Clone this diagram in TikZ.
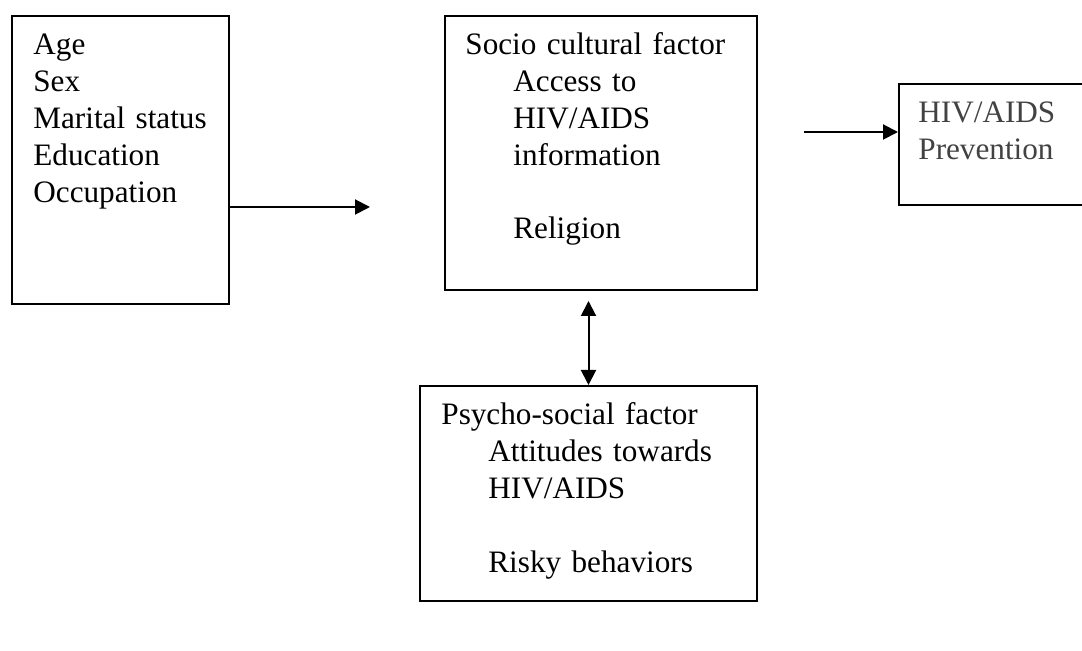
\documentclass[tikz,border=0pt]{standalone}
\usepackage{fontspec}
\setmainfont{Liberation Serif}
\usepackage{xcolor}
\usepackage{tikz}
\usetikzlibrary{arrows.meta}
\definecolor{softgray}{RGB}{66,66,66}
\tikzset{
  box/.style={draw, line width=1pt, anchor=north west, inner sep=0pt},
  txt/.style={anchor=base west, inner sep=0pt, text width=160pt, align=left,
    font=\fontsize{15.6}{18.4}\selectfont},
  arr/.style={line width=1pt, -{Triangle[length=7.5pt,width=7.5pt]}}
}
\begin{document}
\begin{tikzpicture}[x=0.5pt,y=-0.5pt]
\useasboundingbox (0,0) rectangle (1082,651);
% left box
  \node[box, minimum width=108.5pt, minimum height=144pt] (demo) at (11,15) {};
  \node[txt] (demotext) at (33,55) {Age\\Sex\\Marital status\\Education\\Occupation};
% middle box
  \node[box, minimum width=156pt, minimum height=137pt] (socio) at (444,15) {};
  \node[txt] (sociotext) at (465,55) {Socio cultural factor\\
    \hspace*{24pt}Access to\\ \hspace*{24pt}HIV/AIDS\\ \hspace*{24pt}information\\[18.4pt]
    \hspace*{24pt}Religion};
% right box
  \node[box, minimum width=100pt, minimum height=60.5pt] (prevent) at (898,83) {};
  \node[txt, text=softgray] (preventtext) at (918,123) {HIV/AIDS\\Prevention};
% bottom box
  \node[box, minimum width=168.5pt, minimum height=107.5pt] (psycho) at (419,385) {};
  \node[txt] (psychotext) at (441,425) {Psycho-social factor\\
    \hspace*{23.5pt}Attitudes towards\\ \hspace*{23.5pt}HIV/AIDS\\[18.4pt]
    \hspace*{23.5pt}Risky behaviors};
% arrows
  \coordinate (demoend) at (370,207);
  \draw[arr] (demo.east |- demoend) -- (demoend);
  \coordinate (prevstart) at (804,132);
  \draw[arr] (prevstart) -- (prevstart -| prevent.west);
  \coordinate (uptip) at (588,301);
  \draw[arr, {Triangle[length=7.5pt,width=7.5pt]}-{Triangle[length=7.5pt,width=7.5pt]}] (psycho.north) -- (psycho.north |- uptip);
\end{tikzpicture}
\end{document}
